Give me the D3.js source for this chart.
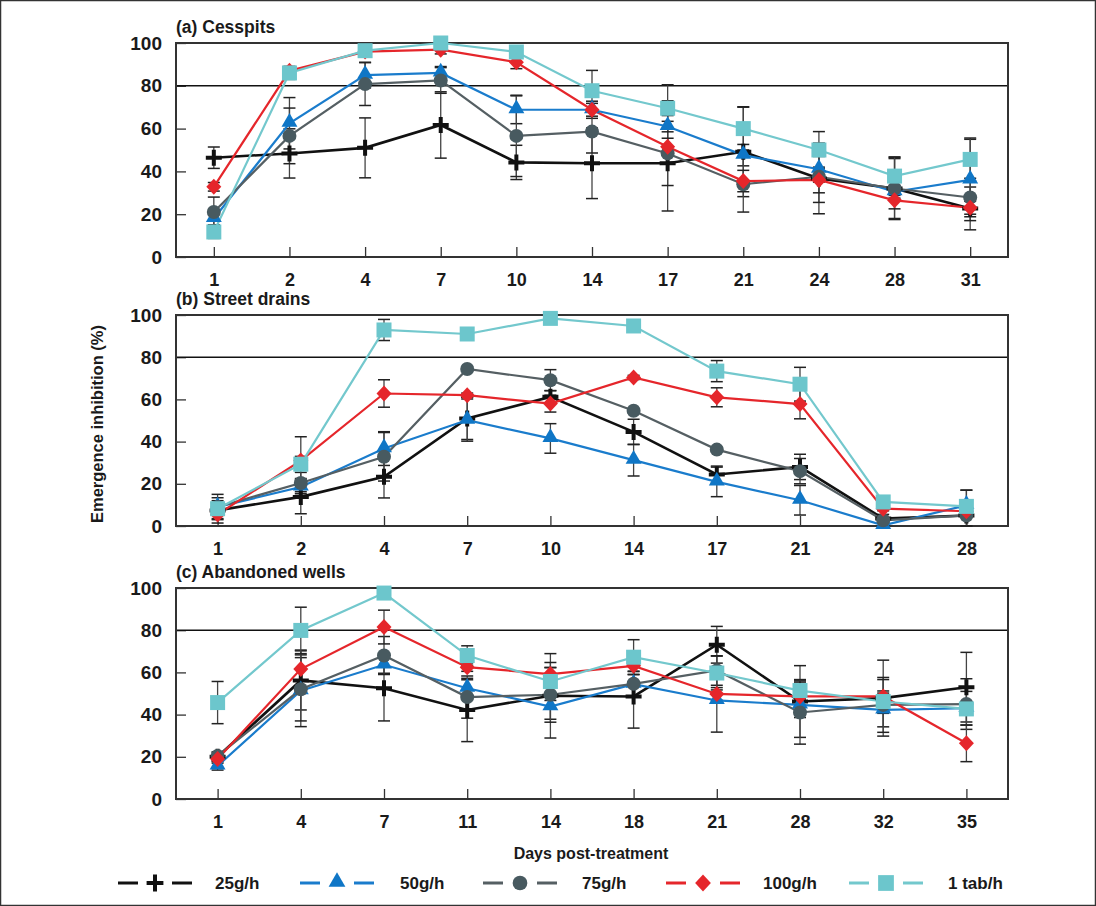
<!DOCTYPE html>
<html>
<head>
<meta charset="utf-8">
<script src="https://cdn.jsdelivr.net/npm/d3@7"></script>
<style>
  body { margin: 0; background: #fff; }
  text { font-family: "Liberation Sans", Arial, sans-serif; font-weight: bold; fill: #1a1a1a; }
</style>
</head>
<body>
<div id="chart"></div>
<script>
// doses (series)
var doses = ["25g/h", "50g/h", "75g/h", "100g/h", "1 tab/h"];
var yTicks = [0, 20, 40, 60, 80, 100];

// (a) Cesspits
var cessDays = ["1", "2", "4", "7", "10", "14", "17", "21", "24", "28", "31"];
var cessMean = [
    [46.4, 48.4, 51, 61.7, 44.2, 43.8, 43.8, 49.2, 36.7, 32, 22.7],
    [18, 62.5, 85, 86, 68.8, 68.8, 61, 47.6, 41, 30.5, 36],
    [21, 56.6, 80.8, 82.5, 56.6, 58.6, 48.4, 34, 37.5, 32, 27.8],
    [32.8, 87, 96, 96.9, 91, 68.8, 51.5, 35.5, 36, 26.5, 23],
    [11.7, 86, 96.4, 100, 95.8, 77.7, 69.5, 60, 50, 37.8, 45.6]
];
var cessErr = [
    [5, 11.5, 14, 15.5, 8, 16.5, 22.3, 21, 16.5, 14.5, 10],
    [3, 12, 6, 3, 6.5, 4, 12, 5, 6, 3, 19],
    [7, 13, 10, 6, 19, 10, 15, 13, 12, 14, 9],
    [2, 2, 1, 2, 3, 3, 4, 5, 6, 4, 3],
    [3, 3, 2, 2, 2, 9.5, 11, 10, 8.6, 9, 10]
];

// (b) Street drains
var drainDays = ["1", "2", "4", "7", "10", "14", "17", "21", "24", "28"];
var drainMean = [
    [7.4, 13.8, 23.3, 51, 61.2, 44.6, 24.4, 28, 3.5, 5],
    [9, 18.5, 36.7, 50.2, 41.5, 31.2, 20.9, 12.2, 0.3, 9.8],
    [9, 20.4, 32.8, 74.4, 69.1, 54.6, 36.2, 26, 2.7, 5],
    [5.5, 31, 62.8, 62, 58, 70.4, 61, 57.8, 8.2, 7],
    [8.2, 29.3, 92.9, 91, 98.4, 94.8, 73.4, 67.2, 11.4, 9.3]
];
var drainErr = [
    [6, 8, 10, 10, 3, 6, 4, 6, 2, 12],
    [3, 4, 8, 10, 7, 7.5, 7, 7, 1, 2],
    [6, 5, 11.5, 1, 5, 1, 1, 6, 1, 12],
    [2, 2, 6.5, 1, 4, 1, 4.5, 7, 1, 1],
    [2, 13, 5, 1, 1, 1, 5, 8, 1, 1]
];

// (c) Abandoned wells
var wellDays = ["1", "4", "7", "11", "14", "18", "21", "28", "32", "35"];
var wellMean = [
    [20, 56.2, 52.5, 42.2, 48.9, 48.6, 73.1, 46.2, 47.8, 53],
    [15.7, 51.3, 63.6, 52.5, 43.8, 54.4, 46.7, 44.6, 42.2, 43],
    [20.4, 52, 68, 48.3, 49.4, 54.6, 60.9, 41, 44.6, 45],
    [19, 61.6, 81.5, 62.5, 59.2, 63.1, 49.8, 48.6, 48.6, 26.4],
    [45.7, 79.9, 97.6, 68, 55.7, 67.2, 59.7, 51.4, 46.2, 42.7]
];
var wellErr = [
    [2, 14, 15.5, 15, 20, 15, 8.7, 17, 18, 16.5],
    [2, 17, 4, 4, 6, 6, 15, 6, 8, 8],
    [2, 15, 9, 10, 13, 6, 7, 15, 13, 12],
    [2, 9, 8, 2, 3, 4, 3, 8, 8, 8.7],
    [10, 11, 2, 4.6, 9, 8.3, 8, 4, 5, 3]
];

var lineColors = ["#111111", "#1a7ccc", "#555f63", "#e5262b", "#73c8cd"];
var markColors = ["#111111", "#0f76c6", "#485a60", "#e5262b", "#6cc6cc"];

var W = 1096, H = 906;
var left = 176, right = 1008;

var panels = [
    { title: "(a) Cesspits", days: cessDays, mean: cessMean, err: cessErr, top: 43, bottom: 257 },
    { title: "(b) Street drains", days: drainDays, mean: drainMean, err: drainErr, top: 315, bottom: 526 },
    { title: "(c) Abandoned wells", days: wellDays, mean: wellMean, err: wellErr, top: 588, bottom: 799 }
];

var svg = d3.select("#chart").append("svg")
    .attr("width", W)
    .attr("height", H);

svg.append("rect")
    .attr("x", 0.5).attr("y", 0.5)
    .attr("width", W - 1).attr("height", H - 1)
    .attr("fill", "#fff")
    .attr("stroke", "#333")
    .attr("stroke-width", 1.5);

function drawMarker(g, k, x, y, scale) {
    scale = scale || 1;
    if (k == 0) {
        var s = 8 * scale;
        g.append("path")
            .attr("d", "M" + (x - s) + "," + y + "H" + (x + s) + "M" + x + "," + (y - s) + "V" + (y + s))
            .attr("stroke", markColors[0])
            .attr("stroke-width", 4);
    } else if (k == 1) {
        g.append("path")
            .attr("transform", "translate(" + x + "," + (y - 1) + ")")
            .attr("d", d3.symbol().type(d3.symbolTriangle).size(110 * scale * scale)())
            .attr("fill", markColors[1]);
    } else if (k == 2) {
        g.append("circle")
            .attr("cx", x).attr("cy", y).attr("r", 7 * scale)
            .attr("fill", markColors[2]);
    } else if (k == 3) {
        var dw = 7.5 * scale, dh = 8 * scale;
        g.append("path")
            .attr("d", "M" + x + "," + (y - dh) + "L" + (x + dw) + "," + y + "L" + x + "," + (y + dh) + "L" + (x - dw) + "," + y + "Z")
            .attr("fill", markColors[3]);
    } else {
        var h = 7.5 * scale;
        g.append("rect")
            .attr("x", x - h).attr("y", y - h)
            .attr("width", 2 * h).attr("height", 2 * h)
            .attr("fill", markColors[4]);
    }
}

panels.forEach(function(p) {
    var x = d3.scalePoint()
        .domain(p.days)
        .range([left, right])
        .padding(0.5);

    var y = d3.scaleLinear()
        .domain([0, 100])
        .range([p.bottom, p.top]);

    var g = svg.append("g");

    // y axis, ticks inward
    var yAxis = g.append("g")
        .attr("transform", "translate(" + left + ",0)")
        .call(d3.axisLeft(y).tickValues(yTicks).tickSize(-10).tickPadding(14));
    yAxis.select(".domain").remove();
    yAxis.selectAll("line").attr("stroke", "#333").attr("stroke-width", 1.3);
    yAxis.selectAll("text").style("font-size", "19px").attr("fill", "#1a1a1a");

    // x axis, ticks inward
    var xAxis = g.append("g")
        .attr("transform", "translate(0," + p.bottom + ")")
        .call(d3.axisBottom(x).tickSize(-10).tickPadding(16));
    xAxis.select(".domain").remove();
    xAxis.selectAll("line").attr("stroke", "#333").attr("stroke-width", 1.3);
    xAxis.selectAll("text").style("font-size", "18px").attr("fill", "#1a1a1a");

    // 80% reference line
    g.append("line")
        .attr("x1", left).attr("x2", right)
        .attr("y1", y(80)).attr("y2", y(80))
        .attr("stroke", "#111")
        .attr("stroke-width", 1.5);

    // frame
    g.append("rect")
        .attr("x", left).attr("y", p.top)
        .attr("width", right - left).attr("height", p.bottom - p.top)
        .attr("fill", "none")
        .attr("stroke", "#333")
        .attr("stroke-width", 2);

    g.append("text")
        .attr("x", left)
        .attr("y", p.top - 10)
        .style("font-size", "17.5px")
        .text(p.title);

    // error bars
    p.mean.forEach(function(vals, k) {
        vals.forEach(function(v, i) {
            var e = p.err[k][i];
            var cx = x(p.days[i]);
            var y1 = y(Math.min(100, v + e)), y2 = y(Math.max(0, v - e));
            g.append("line")
                .attr("x1", cx).attr("x2", cx)
                .attr("y1", y1).attr("y2", y2)
                .attr("stroke", "#444").attr("stroke-width", 1.3);
            [y1, y2].forEach(function(yy) {
                g.append("line")
                    .attr("x1", cx - 6).attr("x2", cx + 6)
                    .attr("y1", yy).attr("y2", yy)
                    .attr("stroke", "#222").attr("stroke-width", 1.5);
            });
        });
    });

    var line = d3.line()
        .x(function(d, i) { return x(p.days[i]); })
        .y(function(d) { return y(d); });

    p.mean.forEach(function(vals, k) {
        g.append("path")
            .datum(vals)
            .attr("d", line)
            .attr("fill", "none")
            .attr("stroke", lineColors[k])
            .attr("stroke-width", k == 0 ? 2.6 : 2.2);
    });

    p.mean.forEach(function(vals, k) {
        vals.forEach(function(v, i) {
            drawMarker(g, k, x(p.days[i]), y(v));
        });
    });
});

// y axis title
svg.append("text")
    .attr("transform", "translate(103,424) rotate(-90)")
    .attr("text-anchor", "middle")
    .style("font-size", "16.5px")
    .text("Emergence inhibition (%)");

// x axis title
svg.append("text")
    .attr("x", 591)
    .attr("y", 859)
    .attr("text-anchor", "middle")
    .style("font-size", "16px")
    .text("Days post-treatment");

// legend
var legendX = [155, 337, 520, 703, 886];
var legendTextX = [215, 400, 582, 763, 948];
var legY = 883;
var lg = svg.append("g");
doses.forEach(function(name, k) {
    var cx = legendX[k];
    [[cx - 37, cx - 17], [cx + 17, cx + 37]].forEach(function(seg) {
        lg.append("line")
            .attr("x1", seg[0]).attr("x2", seg[1])
            .attr("y1", legY).attr("y2", legY)
            .attr("stroke", lineColors[k])
            .attr("stroke-width", 3);
    });
    drawMarker(lg, k, cx, legY, 1.05);
    lg.append("text")
        .attr("x", legendTextX[k])
        .attr("y", legY + 6)
        .style("font-size", "17px")
        .text(name);
});
</script>
</body>
</html>
